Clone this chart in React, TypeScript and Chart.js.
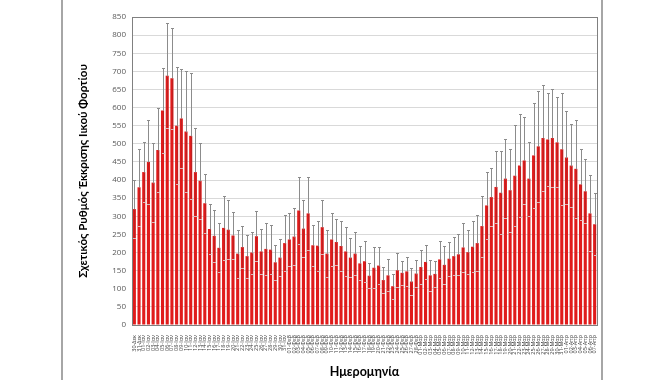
import React, { useEffect, useRef } from "react";
import { Chart, registerables } from "chart.js";

Chart.register(...registerables);

const dateLabels: string[] = [
  "30-Δεκ", "31-Δεκ",
  "01-Ιαν", "02-Ιαν", "03-Ιαν", "04-Ιαν", "05-Ιαν", "06-Ιαν", "07-Ιαν", "08-Ιαν", "09-Ιαν", "10-Ιαν",
  "11-Ιαν", "12-Ιαν", "13-Ιαν", "14-Ιαν", "15-Ιαν", "16-Ιαν", "17-Ιαν", "18-Ιαν", "19-Ιαν", "20-Ιαν",
  "21-Ιαν", "22-Ιαν", "23-Ιαν", "24-Ιαν", "25-Ιαν", "26-Ιαν", "27-Ιαν", "28-Ιαν", "29-Ιαν", "30-Ιαν", "31-Ιαν",
  "01-Φεβ", "02-Φεβ", "03-Φεβ", "04-Φεβ", "05-Φεβ", "06-Φεβ", "07-Φεβ", "08-Φεβ", "09-Φεβ", "10-Φεβ",
  "11-Φεβ", "12-Φεβ", "13-Φεβ", "14-Φεβ", "15-Φεβ", "16-Φεβ", "17-Φεβ", "18-Φεβ", "19-Φεβ", "20-Φεβ",
  "21-Φεβ", "22-Φεβ", "23-Φεβ", "24-Φεβ", "25-Φεβ", "26-Φεβ", "27-Φεβ", "28-Φεβ",
  "01-Μαρ", "02-Μαρ", "03-Μαρ", "04-Μαρ", "05-Μαρ", "06-Μαρ", "07-Μαρ", "08-Μαρ", "09-Μαρ", "10-Μαρ",
  "11-Μαρ", "12-Μαρ", "13-Μαρ", "14-Μαρ", "15-Μαρ", "16-Μαρ", "17-Μαρ", "18-Μαρ", "19-Μαρ", "20-Μαρ",
  "21-Μαρ", "22-Μαρ", "23-Μαρ", "24-Μαρ", "25-Μαρ", "26-Μαρ", "27-Μαρ", "28-Μαρ", "29-Μαρ", "30-Μαρ", "31-Μαρ",
  "01-Απρ", "02-Απρ", "03-Απρ", "04-Απρ", "05-Απρ", "06-Απρ", "07-Απρ",
];

const sheddingRate: number[] = [
  320, 380, 422, 450, 393, 483, 592, 688, 681, 550,
  570, 534, 522, 422, 398, 336, 265, 246, 213, 268,
  263, 247, 197, 215, 190, 200, 245, 203, 210, 208,
  173, 186, 226, 236, 244, 316, 266, 308, 220, 219,
  270, 197, 236, 229, 218, 203, 186, 197, 170, 176,
  136, 158, 164, 124, 137, 107, 151, 144, 148, 120,
  142, 160, 174, 137, 141, 181, 166, 183, 190, 195,
  214, 201, 216, 226, 273, 330, 353, 381, 365, 404,
  372, 412, 440, 454, 404, 468, 493, 516, 512, 516,
  504, 485, 462, 440, 431, 388, 369, 308, 278,
];

const sheddingError: number[] = [
  80, 107, 82, 115, 110, 115, 117, 145, 139, 161,
  137, 166, 173, 121, 105, 82, 69, 71, 68, 89,
  81, 64, 66, 59, 59, 58, 69, 63, 71, 68,
  49, 50, 78, 73, 78, 93, 79, 100, 56, 69,
  74, 65, 73, 64, 68, 67, 54, 60, 47, 56,
  34, 57, 52, 37, 44, 35, 47, 34, 39, 36,
  37, 48, 48, 43, 36, 51, 52, 47, 53, 56,
  68, 61, 70, 77, 84, 93, 81, 99, 115, 109,
  115, 139, 143, 120, 102, 144, 154, 145, 128, 135,
  124, 155, 129, 114, 135, 99, 88, 105, 85,
];

const yTitle = "Σχετικός Ρυθμός Έκκρισης Ιικού Φορτίου";
const xTitle = "Ημερομηνία";

const errorBarsPlugin = {
  id: "errorBars",
  afterDatasetsDraw(chart: any) {
    const { ctx, scales } = chart;
    const y = scales.y;
    const meta = chart.getDatasetMeta(0);
    ctx.save();
    ctx.lineWidth = 1;
    meta.data.forEach((bar: any, i: number) => {
      const v = sheddingRate[i];
      const e = sheddingError[i];
      const x = Math.round(bar.x) + 0.5;
      const top = Math.round(y.getPixelForValue(v + e)) + 0.5;
      const mid = Math.round(y.getPixelForValue(v)) + 0.5;
      const bot = Math.round(y.getPixelForValue(Math.max(0, v - e))) + 0.5;
      ctx.strokeStyle = "#8c8c8c";
      ctx.beginPath();
      ctx.moveTo(x, top);
      ctx.lineTo(x, mid);
      ctx.moveTo(x - 1.5, top);
      ctx.lineTo(x + 1.5, top);
      ctx.stroke();
      ctx.strokeStyle = "rgba(150,40,40,0.45)";
      ctx.beginPath();
      ctx.moveTo(x, mid);
      ctx.lineTo(x, bot);
      ctx.stroke();
      ctx.strokeStyle = "rgba(220,200,200,0.9)";
      ctx.beginPath();
      ctx.moveTo(x - 1.5, bot);
      ctx.lineTo(x + 1.5, bot);
      ctx.stroke();
    });
    ctx.restore();
  },
  afterDraw(chart: any) {
    const { ctx, chartArea } = chart;
    ctx.save();
    ctx.strokeStyle = "#808080";
    ctx.lineWidth = 1;
    ctx.strokeRect(
      Math.round(chartArea.left) + 0.5,
      Math.round(chartArea.top) + 0.5,
      Math.round(chartArea.right - chartArea.left),
      Math.round(chartArea.bottom - chartArea.top)
    );
    ctx.restore();
  },
};

export default function App() {
  const canvasRef = useRef<HTMLCanvasElement | null>(null);

  useEffect(() => {
    if (!canvasRef.current) return;
    const chart = new Chart(canvasRef.current, {
      type: "bar",
      data: {
        labels: dateLabels,
        datasets: [
          {
            data: sheddingRate,
            backgroundColor: "#e01b1b",
            borderWidth: 0,
            categoryPercentage: 1,
            barPercentage: 0.66,
          },
        ],
      },
      options: {
        responsive: false,
        animation: false,
        layout: { padding: { left: 70, right: 63, top: 17, bottom: 0 } },
        plugins: {
          legend: { display: false },
          tooltip: { enabled: false },
        },
        scales: {
          x: {
            grid: { display: false },
            border: { display: true, color: "#808080" },
            ticks: {
              autoSkip: false,
              maxRotation: 90,
              minRotation: 90,
              padding: 2,
              color: "#404040",
              font: { family: "Open Sans", size: 5.5 },
            },
            title: {
              display: true,
              text: xTitle,
              color: "#000",
              font: { family: "Lato", size: 12.5, weight: "bold" },
              padding: { top: 2, bottom: 1 },
            },
            afterFit(scale: any) {
              scale.height = 55;
            },
          },
          y: {
            min: 0,
            max: 850,
            grid: { color: "#d9d9d9", tickLength: 4, drawTicks: false },
            border: { display: true, color: "#808080" },
            ticks: {
              stepSize: 50,
              padding: 6,
              color: "#595959",
              font: { family: "Open Sans", size: 8 },
            },
            title: {
              display: true,
              text: yTitle,
              color: "#000",
              font: { family: "Lato", size: 11.5, weight: "bold" },
              padding: { top: 6, bottom: 4 },
            },
            afterFit(scale: any) {
              scale.width = 62;
            },
          },
        },
      },
      plugins: [errorBarsPlugin],
    });
    return () => chart.destroy();
  }, []);

  return (
    <div style={{ position: "fixed", left: 0, top: 0, width: 660, height: 380, background: "#fff" }}>
      <div
        style={{
          position: "absolute",
          left: 61,
          top: 0,
          width: 542,
          height: 380,
          borderLeft: "2px solid #a6a6a6",
          borderRight: "2px solid #a6a6a6",
          boxSizing: "border-box",
        }}
      />
      <canvas
        ref={canvasRef}
        width={660}
        height={380}
        style={{ position: "absolute", left: 0, top: 0, width: 660, height: 380 }}
      />
    </div>
  );
}
